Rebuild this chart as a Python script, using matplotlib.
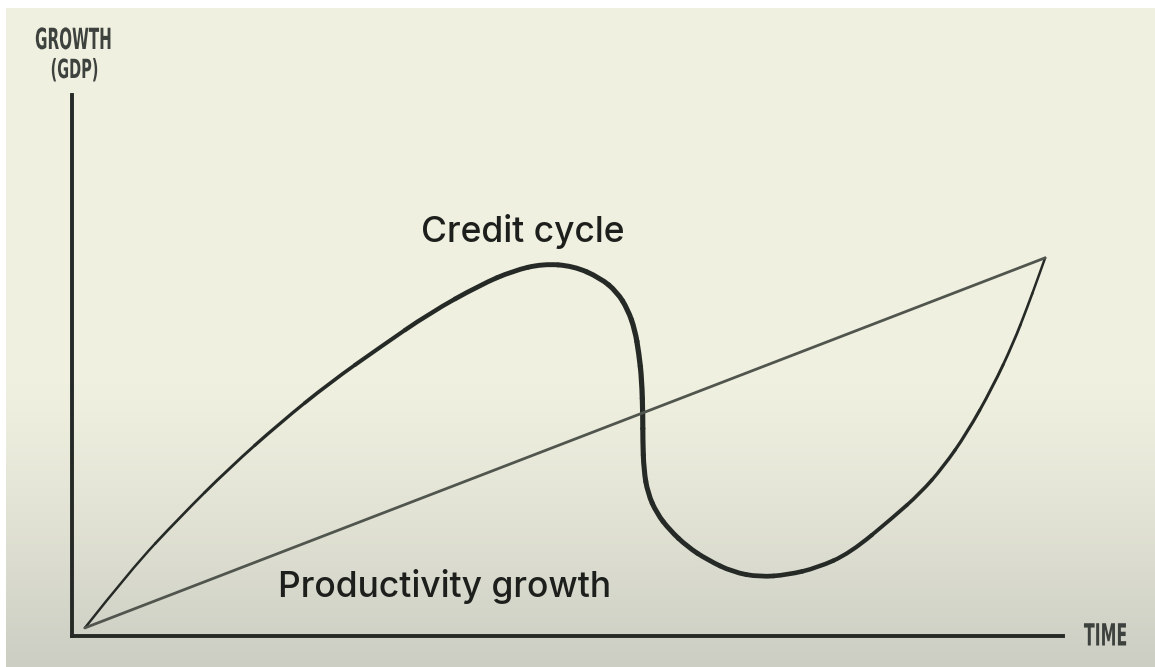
"""Credit cycle vs productivity growth, hand-drawn style sketch."""
import matplotlib
matplotlib.use("Agg")
import matplotlib.pyplot as plt
import numpy as np
from matplotlib.patches import PathPatch
from matplotlib.path import Path
from matplotlib.patheffects import AbstractPathEffect
from matplotlib.transforms import Affine2D

# credit cycle curve (time, growth)
CYCLE_T = [1.3, 5.9, 10.9, 15.9, 21.0, 26.0, 31.1, 36.1, 41.2, 44.5, 47.5,
           50.6, 53.3, 55.0, 56.1, 56.8, 57.2, 57.5, 57.6, 57.6, 57.7, 58.1,
           59.0, 60.3, 62.1, 64.1, 66.7, 69.4, 72.2, 75.2, 78.5, 82.9, 85.6,
           87.9, 90.3, 92.9, 95.0, 96.4, 97.4, 98.2]
CYCLE_G = [1.5, 12.2, 22.0, 31.1, 39.4, 46.8, 53.4, 59.7, 64.9, 67.5, 68.8,
           68.4, 66.2, 63.6, 60.3, 56.6, 52.3, 47.3, 40.5, 36.2, 30.7, 26.4,
           22.7, 19.6, 16.5, 14.1, 11.8, 10.9, 11.3, 12.6, 15.3, 22.0, 26.4,
           31.2, 37.5, 46.0, 54.2, 60.8, 65.8, 69.9]
# productivity growth line
PROD_T = [1.3, 98.2]
PROD_G = [1.5, 69.9]

LINE = "#262a27"
TEXT = "#1c1f1c"
BG_TOP, BG_BOT = np.array([0.941, 0.945, 0.878]), np.array([0.80, 0.805, 0.765])


class Squeeze(AbstractPathEffect):
    """Narrow the glyphs around their centre (poor man's condensed font)."""

    def __init__(self, sx, extra=0.0):
        super().__init__()
        self.sx, self.extra = sx, extra

    def draw_path(self, renderer, gc, tpath, affine, rgbFace=None):
        v = affine.transform(tpath.vertices)
        cx = (v[:, 0].min() + v[:, 0].max()) / 2
        tr = affine + Affine2D().translate(-cx, 0).scale(self.sx, 1).translate(cx, 0)
        gc0 = renderer.new_gc()
        gc0.copy_properties(gc)
        gc0.set_linewidth(self.extra)
        renderer.draw_path(gc0, tpath, tr, rgbFace)
        gc0.restore()


def main() -> None:
    fig = plt.figure(figsize=(11.55, 6.67), dpi=100)

    # paper background with darker bottom
    bg = fig.add_axes([0, 0, 1, 1], zorder=0)
    rows = np.linspace(0, 1, 667)
    k = np.clip((rows - 0.55) / 0.45, 0, 1) ** 1.3
    grad = BG_TOP[None, :] * (1 - k[:, None]) + BG_BOT[None, :] * k[:, None]
    img = np.repeat(grad[:, None, :], 1155, axis=1)
    img[:8, :, :] = 1.0
    img[:, :6, :] = 1.0
    bg.imshow(img, aspect="auto", extent=(0, 1, 0, 1), interpolation="bilinear")
    bg.set_axis_off()

    ax = fig.add_axes([72 / 1155, 31 / 667, 991 / 1155, 541 / 667], zorder=1)
    ax.set_facecolor("none")
    ax.set_xlim(0, 100)
    ax.set_ylim(0, 100)
    for side in ("top", "right"):
        ax.spines[side].set_visible(False)
    for side in ("left", "bottom"):
        ax.spines[side].set_linewidth(2.8)
        ax.spines[side].set_color(LINE)
    ax.set_xticks([])
    ax.set_yticks([])

    ax.plot(PROD_T, PROD_G, color="#50554e", lw=2.0, solid_capstyle="round",
            clip_on=False)

    # credit cycle: smooth quadratic pieces through the read points,
    # stroke thickening towards the middle like a felt pen
    pts = np.column_stack([CYCLE_T, CYCLE_G])
    mids = (pts[:-1] + pts[1:]) / 2
    d = np.hypot(np.diff(pts[:, 0]) * 9.91, np.diff(pts[:, 1]) * 5.41)
    s = np.concatenate([[0], np.cumsum(d)]) / d.sum()
    n = len(pts)
    for i in range(1, n - 1):
        start = pts[0] if i == 1 else mids[i - 1]
        end = pts[-1] if i == n - 2 else mids[i]
        w = np.interp(s[i], [0, 0.15, 0.35, 0.5, 0.7, 0.85, 1.0],
                      [1.6, 2.1, 3.4, 3.8, 3.4, 2.4, 1.7])
        piece = Path([start, pts[i], end], [Path.MOVETO, Path.CURVE3, Path.CURVE3])
        ax.add_patch(PathPatch(piece, fill=False, edgecolor=LINE, lw=w,
                               capstyle="round", joinstyle="round", clip_on=False))

    ax.text(45.5, 72.8, "Credit cycle", family="Inter", fontsize=25.5,
            fontweight="medium", color=TEXT, ha="center", va="baseline")
    ax.text(37.6, 7.2, "Productivity growth", family="Inter", fontsize=25.5,
            fontweight="medium", color=TEXT, ha="center", va="baseline")

    lab = dict(family="DejaVu Sans", fontweight="bold", color="#3e423e",
               ha="center", va="center")
    fig.text(74 / 1155, 1 - 41 / 667, "GROWTH", fontsize=21,
             path_effects=[Squeeze(0.52)], **lab)
    fig.text(75 / 1155, 1 - 71 / 667, "(GDP)", fontsize=19,
             path_effects=[Squeeze(0.55)], **lab)
    fig.text(1106 / 1155, 1 - 637 / 667, "TIME", fontsize=22,
             path_effects=[Squeeze(0.52)], **lab)

    fig.savefig("out.png", dpi=100)
    plt.close(fig)


if __name__ == "__main__":
    main()
